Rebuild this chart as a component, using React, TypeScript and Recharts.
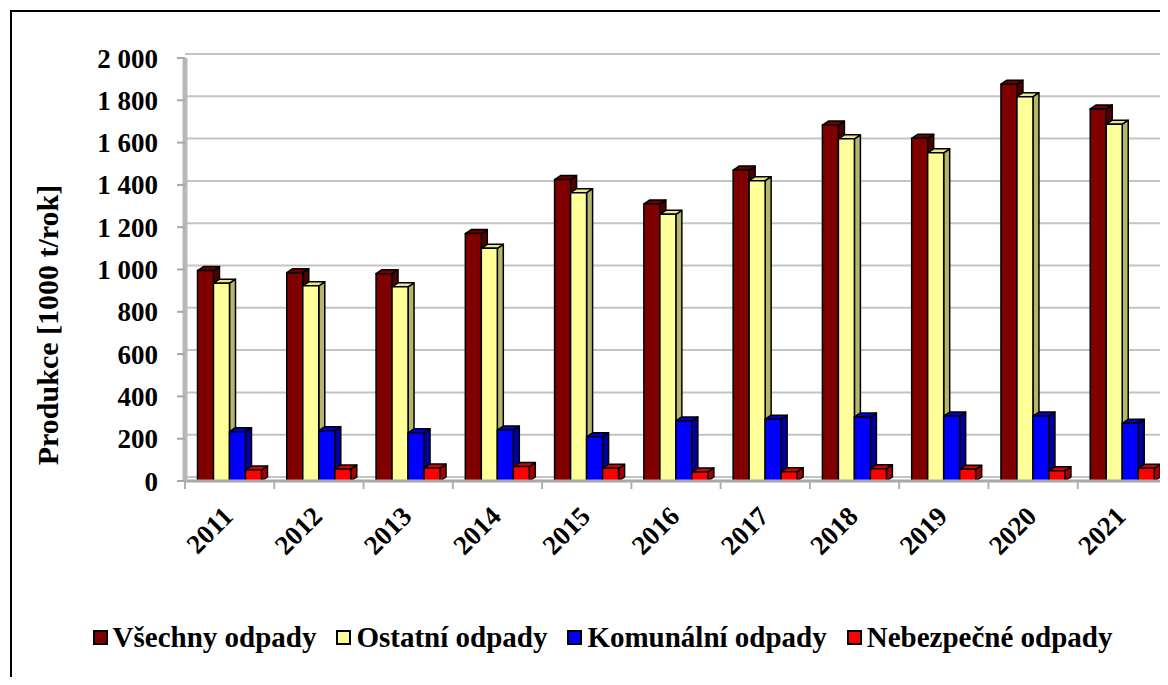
import React from "react";
import { BarChart, Bar, XAxis, YAxis, CartesianGrid, Legend } from "recharts";

const years = ["2011", "2012", "2013", "2014", "2015", "2016", "2017", "2018", "2019", "2020", "2021"];
const vsechny = [995, 985, 980, 1170, 1425, 1310, 1470, 1683, 1620, 1876, 1759];
const ostatni = [935, 923, 918, 1100, 1363, 1261, 1420, 1618, 1552, 1817, 1687];
const komunalni = [233, 238, 228, 241, 209, 284, 292, 303, 307, 307, 273];
const nebezpecne = [52, 57, 61, 68, 60, 43, 44, 58, 55, 49, 60];
const yTicks = [0, 200, 400, 600, 800, 1000, 1200, 1400, 1600, 1800, 2000];
const yMax = 2000;

const series = [
  { key: "vsechny", name: "Všechny odpady", front: "#800000", top: "#700000", side: "#4f0000" },
  { key: "ostatni", name: "Ostatní odpady", front: "#FFFF99", top: "#E8E88A", side: "#B5B56C" },
  { key: "komunalni", name: "Komunální odpady", front: "#0000FF", top: "#0000D0", side: "#0000A0" },
  { key: "nebezpecne", name: "Nebezpečné odpady", front: "#FF0000", top: "#D80000", side: "#A80000" },
];

const data = years.map((year, i) => ({
  year,
  vsechny: vsechny[i],
  ostatni: ostatni[i],
  komunalni: komunalni[i],
  nebezpecne: nebezpecne[i],
}));

const FONT = "'Liberation Serif', 'Times New Roman', serif";
const DX = 6;
const DY = 4;

function Box3D(props: any) {
  const { x, y, width, height, colors } = props;
  if (width == null || height == null || height <= 0) return null;
  const r = x + width;
  const b = y + height;
  const line = { stroke: "#000", strokeWidth: 1.5, strokeLinejoin: "round" as const };
  return (
    <g>
      <polygon
        points={`${r},${y} ${r + DX},${y - DY} ${r + DX},${b - DY} ${r},${b}`}
        fill={colors.side}
        {...line}
      />
      <polygon
        points={`${x},${y} ${x + DX},${y - DY} ${r + DX},${y - DY} ${r},${y}`}
        fill={colors.top}
        {...line}
      />
      <rect x={x} y={y} width={width} height={height} fill={colors.front} {...line} />
    </g>
  );
}

function formatTick(v: number) {
  if (v < 1000) return String(v);
  return `${Math.floor(v / 1000)} ${String(v % 1000).padStart(3, "0")}`;
}

function YearTick(props: any) {
  const { x, y, payload, index } = props;
  const half = payload && payload.offset ? payload.offset : 44.6;
  const axisY = y - 8;
  const ax = x + 5;
  const ay = y + 29;
  return (
    <g>
      <line x1={x - half} y1={axisY} x2={x - half} y2={axisY + 8} stroke="#b0b0b0" strokeWidth={2} />
      {index === years.length - 1 && (
        <line x1={x + half} y1={axisY} x2={x + half} y2={axisY + 8} stroke="#b0b0b0" strokeWidth={2} />
      )}
      <text
        x={ax}
        y={ay}
        textAnchor="end"
        transform={`rotate(-45, ${ax}, ${ay})`}
        fontFamily={FONT}
        fontWeight="bold"
        fontSize={27}
        fill="#000"
      >
        {payload.value}
      </text>
    </g>
  );
}

function LegendContent() {
  return (
    <div
      style={{
        display: "flex",
        justifyContent: "center",
        alignItems: "center",
        height: 34,
        fontFamily: FONT,
        fontWeight: "bold",
        fontSize: 29,
        color: "#000",
        whiteSpace: "nowrap",
      }}
    >
      {series.map((s, i) => (
        <div
          key={s.key}
          style={{ display: "flex", alignItems: "center", marginRight: i < series.length - 1 ? 20 : 0 }}
        >
          <span
            style={{
              display: "inline-block",
              width: 11,
              height: 11,
              background: s.front,
              border: "2px solid #000",
              marginRight: 5,
            }}
          />
          <span>{s.name}</span>
        </div>
      ))}
    </div>
  );
}

// back-wall gridlines sit a little above the front scale (3D depth)
function gridRows(args: any) {
  const sc = args && args.yAxis && args.yAxis.scale;
  let f: (v: number) => number;
  if (typeof sc === "function") f = sc;
  else if (sc && typeof sc.map === "function") f = (v: number) => sc.map(v);
  else {
    const off = args.offset;
    f = (v: number) => off.top + off.height * (1 - v / yMax);
  }
  return yTicks.map((v) => f(v) - DY);
}

export default function App() {
  return (
    <div style={{ position: "relative", width: 1160, height: 669, overflow: "hidden" }}>
      <div
        style={{
          position: "absolute",
          left: 2,
          top: 2,
          width: 1216,
          height: 700,
          border: "2px solid #000",
          background: "#fff",
        }}
      >
        <BarChart
          width={1216}
          height={700}
          data={data}
          margin={{ top: 46, right: 61, left: 0, bottom: 171 }}
          barCategoryGap="14%"
          barGap={0}
        >
          <CartesianGrid
            vertical={false}
            stroke="#c4c4c4"
            strokeWidth={2}
            horizontalCoordinatesGenerator={gridRows}
          />
          <XAxis
            dataKey="year"
            interval={0}
            height={60}
            tickSize={8}
            tickMargin={0}
            tickLine={false}
            axisLine={{ stroke: "#a8a8a8", strokeWidth: 3 }}
            tick={<YearTick />}
          />
          <YAxis
            width={173}
            domain={[0, yMax]}
            ticks={yTicks}
            interval={0}
            tickFormatter={formatTick}
            tickSize={8}
            tickMargin={19}
            tickLine={{ stroke: "#a8a8a8", strokeWidth: 2 }}
            axisLine={{ stroke: "#b8b8b8", strokeWidth: 5 }}
            tick={{ fill: "#000", fontSize: 27, fontWeight: "bold", fontFamily: FONT }}
            label={{
              content: () => (
                <text
                  x={35}
                  y={313}
                  transform="rotate(-90, 35, 313)"
                  textAnchor="middle"
                  dominantBaseline="central"
                  fontFamily={FONT}
                  fontWeight="bold"
                  fontSize={30}
                  fill="#000"
                >
                  Produkce [1000 t/rok]
                </text>
              ),
            }}
          />
          <Legend
            layout="horizontal"
            verticalAlign="middle"
            align="center"
            wrapperStyle={{ top: 608, left: 0, width: 1181, height: 34 }}
            content={<LegendContent />}
          />
          {series.map((s) => (
            <Bar
              key={s.key}
              dataKey={s.key}
              name={s.name}
              fill={s.front}
              isAnimationActive={false}
              shape={(p: any) => <Box3D {...p} colors={s} />}
            />
          ))}
        </BarChart>
      </div>
    </div>
  );
}
